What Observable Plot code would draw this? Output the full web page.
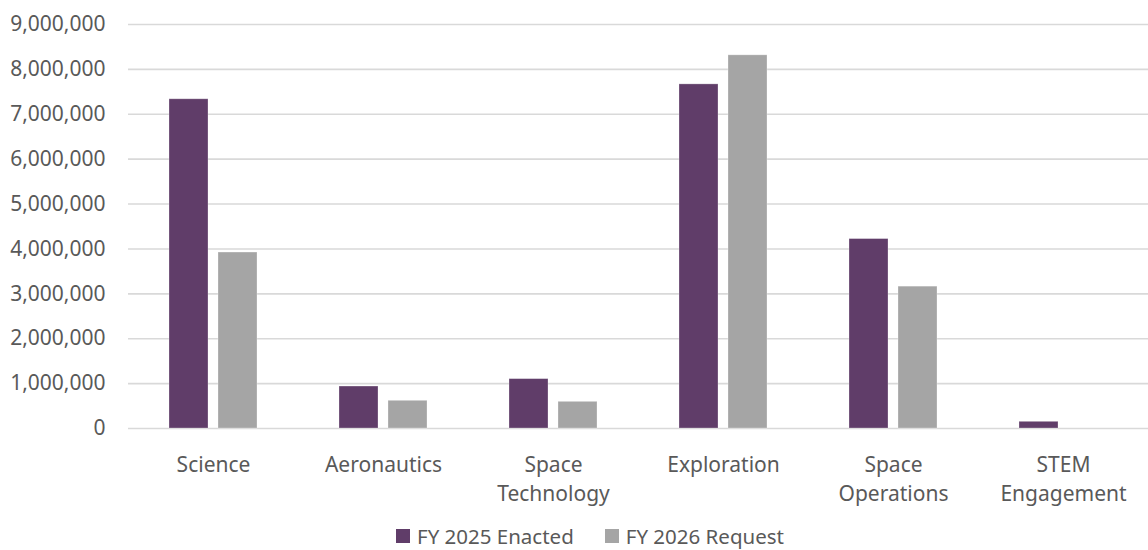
<!DOCTYPE html>
<html>
<head>
<meta charset="utf-8">
<script src="https://cdn.jsdelivr.net/npm/d3@7"></script>
<script src="https://cdn.jsdelivr.net/npm/@observablehq/plot@0.6"></script>
<style>
  html, body { margin: 0; padding: 0; background: #fff; }
  body { width: 1148px; height: 550px; position: relative; overflow: hidden; font-family: "Noto Sans", sans-serif; color: #595959; }
  #legend { position: absolute; top: 526px; left: 396px; display: flex; align-items: center; font-size: 20.5px; line-height: 20px; white-space: nowrap; }
  .item { display: flex; align-items: center; }
  .sw { width: 14px; height: 14px; margin-right: 7px; }
</style>
</head>
<body>
<div id="chart"></div>
<div id="legend"></div>
<script>
const categories = ["Science", "Aeronautics", "Space Technology", "Exploration", "Space Operations", "STEM Engagement"];
const categoryLabels = ["Science", "Aeronautics", "Space\nTechnology", "Exploration", "Space\nOperations", "STEM\nEngagement"];
const series = ["FY 2025 Enacted", "FY 2026 Request"];
const enacted = [7334000, 935000, 1100000, 7666000, 4220000, 149000];
const request = [3920000, 617000, 594000, 8313000, 3160000, 0];
const yTicks = [0, 1000000, 2000000, 3000000, 4000000, 5000000, 6000000, 7000000, 8000000, 9000000];
const colors = ["#603D69", "#A5A5A5"];

const data = [];
categories.forEach((c, i) => {
  data.push({category: c, series: series[0], value: enacted[i]});
  data.push({category: c, series: series[1], value: request[i]});
});
const labelOf = new Map(categories.map((c, i) => [c, categoryLabels[i]]));

const chart = Plot.plot({
  width: 1148,
  height: 515,
  marginLeft: 128,
  marginRight: 0,
  marginTop: 24,
  marginBottom: 87,
  style: {fontFamily: "Noto Sans", fontSize: "21px", color: "#595959", background: "#fff"},
  fx: {domain: categories, padding: 0, label: null},
  x: {domain: series, paddingInner: 0.2, paddingOuter: 0.82, axis: null},
  y: {domain: [0, 9000000], label: null},
  color: {domain: series, range: colors},
  marks: [
    Plot.gridY(yTicks, {stroke: "#d9d9d9", strokeOpacity: 1, strokeWidth: 1.6}),
    Plot.barY(data, {fx: "category", x: "series", y: "value", fill: "series", stroke: "#ffffff", strokeOpacity: 0.35, strokeWidth: 0.8}),
    Plot.axisY(yTicks, {tickSize: 0, tickPadding: 23, tickFormat: d3.format(","), fontSize: 21, fill: "#595959", label: null}),
    Plot.axisFx({anchor: "bottom", tickSize: 0, tickPadding: 23, fontSize: 21, lineHeight: 1.38, fill: "#595959", tickFormat: d => labelOf.get(d), label: null})
  ]
});
document.getElementById("chart").appendChild(chart);

const legend = document.getElementById("legend");
series.forEach((s, i) => {
  const item = document.createElement("div");
  item.className = "item";
  if (i > 0) item.style.marginLeft = "31px";
  const sw = document.createElement("span");
  sw.className = "sw";
  sw.style.background = colors[i];
  const t = document.createElement("span");
  t.textContent = s;
  item.appendChild(sw);
  item.appendChild(t);
  legend.appendChild(item);
});
</script>
</body>
</html>
